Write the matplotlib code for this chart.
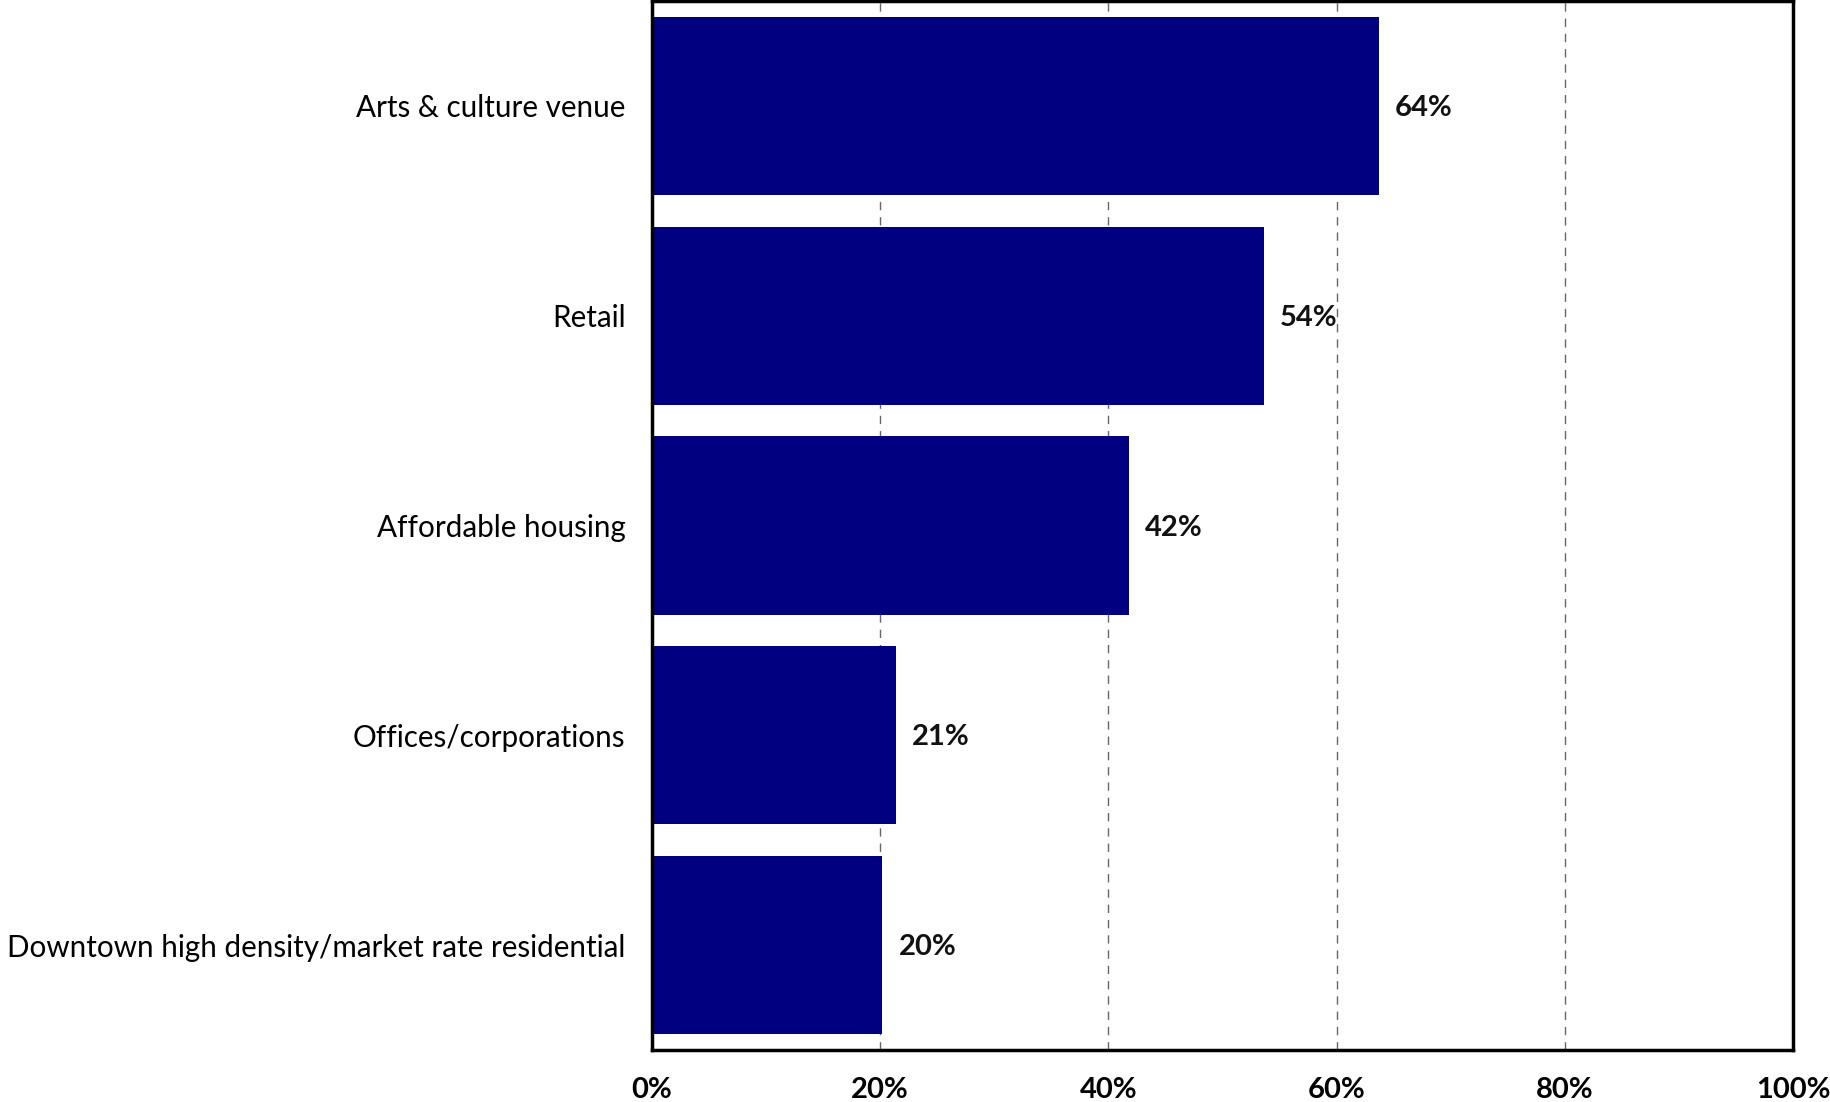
import matplotlib.pyplot as plt
import numpy as np

# categories from top to bottom
categories = ["Arts & culture venue", "Retail", "Affordable housing",
              "Offices/corporations", "Downtown high density/market rate residential"]
shares = [0.637, 0.536, 0.418, 0.214, 0.202]
labels = ["64%", "54%", "42%", "21%", "20%"]
xticks = [0, 0.2, 0.4, 0.6, 0.8, 1.0]
xtick_labels = ["0%", "20%", "40%", "60%", "80%", "100%"]

plt.rcParams['font.family'] = ['Lato', 'DejaVu Sans']

fig = plt.figure(figsize=(18.31, 11.02), dpi=100)
ax = fig.add_axes([652 / 1831, 52 / 1102, (1793 - 652) / 1831, (1101 - 52) / 1102])

y = np.arange(len(categories))
ax.barh(y, shares, height=0.85, color="#000080", zorder=2)
for yi, v, t in zip(y, shares, labels):
    ax.text(v + 0.014, yi + 0.01, t, va="center", ha="left", fontsize=21,
            fontweight="bold", color="#111111")

ax.set_xlim(0, 1)
ax.set_ylim(len(categories) - 0.5, -0.5)
ax.set_yticks(y)
ax.set_yticklabels(categories, fontsize=21.3)
ax.set_xticks(xticks)
ax.set_xticklabels(xtick_labels, fontsize=21, fontweight="bold")
ax.tick_params(axis="both", length=0)
ax.tick_params(axis="y", pad=19)
ax.tick_params(axis="x", pad=19.5)
ax.xaxis.grid(True, linestyle=(0, (6, 5)), color="#666666", linewidth=1, zorder=1)
ax.set_axisbelow(True)
for s in ax.spines.values():
    s.set_linewidth(2.5)
    s.set_color("black")

fig.savefig("out.png", dpi=100)
